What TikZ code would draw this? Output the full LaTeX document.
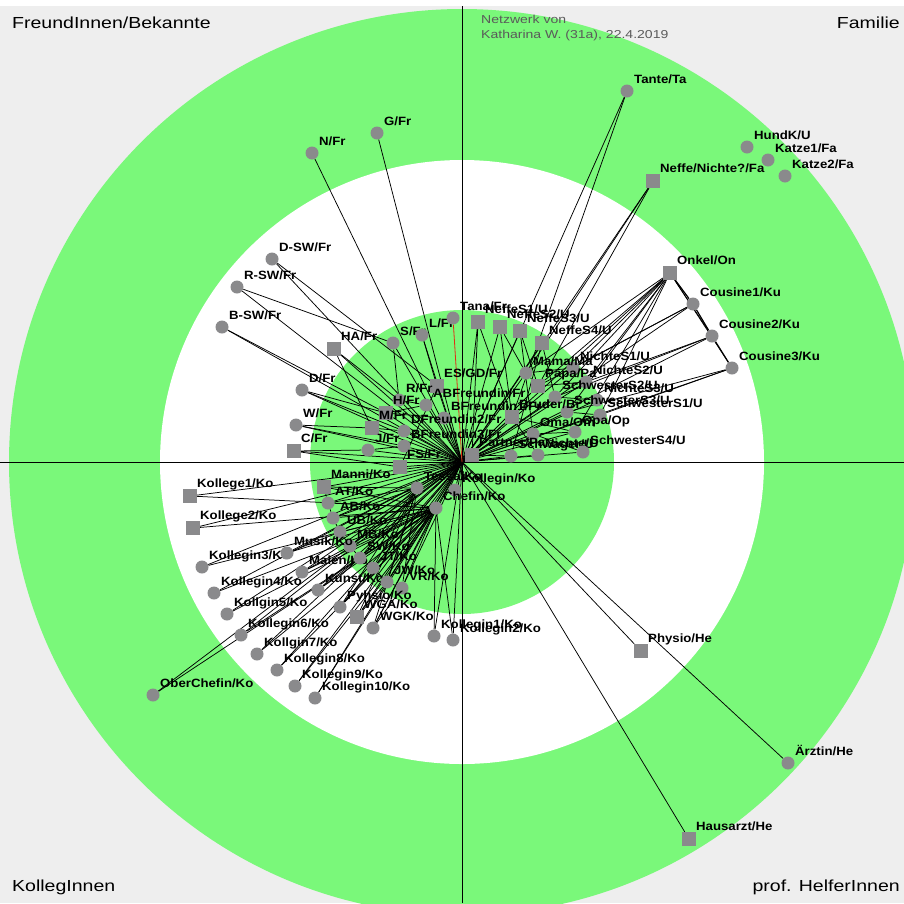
\documentclass[tikz,border=0pt]{standalone}
\usepackage{fontspec}
\setmainfont{Liberation Sans}
\newfontfamily\cornerfont[FakeStretch=1.22]{Liberation Sans}
\newfontfamily\namefont[FakeStretch=1.1]{Liberation Sans}

\definecolor{bggray}{RGB}{238,238,238}
\definecolor{ringgreen}{RGB}{122,248,122}
\definecolor{markgray}{RGB}{138,138,140}
\definecolor{titlegray}{RGB}{90,90,90}
\definecolor{linkred}{RGB}{225,45,20}

\pgfdeclarelayer{rings}
\pgfdeclarelayer{links}
\pgfsetlayers{rings,links,main}

\tikzset{
  pcirc/.style={circle, fill=markgray, minimum size=13pt, inner sep=0pt},
  psq/.style={rectangle, fill=markgray, minimum size=14pt, inner sep=0pt},
  lbl/.style={font=\namefont\bfseries\fontsize{12}{12}\selectfont, inner sep=0pt, anchor=base west, xshift=7pt, yshift=1pt},
  corner/.style={font=\cornerfont\fontsize{16}{16}\selectfont, inner sep=0pt},
  title/.style={font=\cornerfont\fontsize{11.5}{12}\selectfont, text=titlegray, inner sep=0pt, anchor=base west},
  link/.style={line width=0.75pt, black},
}

\begin{document}
\begin{tikzpicture}[x=1pt, y=-1pt]
    \useasboundingbox (0,0) rectangle (904,903);

    % Background and the three circles
    \begin{pgfonlayer}{rings}
    \fill[white] (0,0) rectangle (904,903);
    \fill[bggray] (0,6) rectangle (904,903);
    \begin{scope}
        \clip (0,6) rectangle (904,903);
        \fill[ringgreen] (462,462) circle (453);
    \end{scope}
    \fill[white] (462,462) circle (302);
    \fill[ringgreen] (462,462) circle (152);
    \end{pgfonlayer}

    % Sector names and heading
    \node[corner, anchor=base west] (fb) at (12,28) {FreundInnen/Bekannte};
    \node[corner, anchor=base east] (fam) at (900,28) {Familie};
    \node[corner, anchor=base west] (kol) at (12,891) {KollegInnen};
    \node[corner, anchor=base east] (hel) at (900,891) {prof. HelferInnen};
    \node[title] (head1) at (481,23) {Netzwerk von};
    \node[title] (head2) at (481,38) {Katharina W. (31a), 22.4.2019};

    % Ego in the middle
    \coordinate (ego) at (462,462);

    % FreundInnen/Bekannte
    \node[pcirc, label={[lbl]90:G/Fr}] (gFr) at (377,133) {};
    \node[pcirc, label={[lbl]90:N/Fr}] (nFr) at (312,153) {};
    \node[pcirc, label={[lbl]90:D-SW/Fr}] (dswFr) at (272,259) {};
    \node[pcirc, label={[lbl]90:R-SW/Fr}] (rswFr) at (237,287) {};
    \node[pcirc, label={[lbl]90:B-SW/Fr}] (bswFr) at (222,327) {};
    \node[psq, label={[lbl]90:HA/Fr}] (haFr) at (334,349) {};
    \node[pcirc, label={[lbl]90:S/Fr}] (sFr) at (393,343) {};
    \node[pcirc, label={[lbl]90:L/Fr}] (lFr) at (422,335) {};
    \node[pcirc, label={[lbl]90:Tana/Fr}] (tanaFr) at (453,318) {};
    \node[pcirc, label={[lbl]90:D/Fr}] (dFr) at (302,390) {};
    \node[pcirc, label={[lbl]90:W/Fr}] (wFr) at (296,425) {};
    \node[psq, label={[lbl]90:C/Fr}] (cFr) at (294,451) {};
    \node[psq, label={[lbl]90:ES/GD/Fr}] (esgdFr) at (437,386) {};
    \node[pcirc, label={[lbl]90:R/Fr}] (rFr) at (399,400) {};
    \node[pcirc, label={[lbl]90:ABFreundin/Fr}] (abFr) at (426,405) {};
    \node[psq, label={[lbl]90:H/Fr}] (hFr) at (386,413) {};
    \node[pcirc, label={[lbl]90:BFreundin1/Fr}] (bfr1Fr) at (444,418) {};
    \node[psq, label={[lbl]90:M/Fr}] (mFr) at (372,428) {};
    \node[pcirc, label={[lbl]90:DFreundin2/Fr}] (dfr2Fr) at (404,431) {};
    \node[pcirc, label={[lbl]90:J/Fr}] (jFr) at (368,450) {};
    \node[pcirc, label={[lbl]90:BFreundin3/Fr}] (bfr3Fr) at (404,446) {};
    \node[psq, label={[lbl]90:FS/Fr}] (fsFr) at (400,467) {};

    % Familie
    \node[pcirc, label={[lbl]90:Tante/Ta}] (tante) at (627,91) {};
    \node[pcirc, label={[lbl]90:HundK/U}] (hund) at (747,147) {};
    \node[pcirc, label={[lbl]90:Katze1/Fa}] (katze1) at (768,160) {};
    \node[pcirc, label={[lbl]90:Katze2/Fa}] (katze2) at (785,176) {};
    \node[psq, label={[lbl]90:Neffe/Nichte?/Fa}] (neffeFa) at (653,181) {};
    \node[psq, label={[lbl]90:Onkel/On}] (onkel) at (670,273) {};
    \node[pcirc, label={[lbl]90:Cousine1/Ku}] (cous1) at (693,304) {};
    \node[pcirc, label={[lbl]90:Cousine2/Ku}] (cous2) at (712,336) {};
    \node[pcirc, label={[lbl]90:Cousine3/Ku}] (cous3) at (732,368) {};
    \node[psq, label={[lbl]90:NeffeS1/U}] (neffeS1) at (478,322) {};
    \node[psq, label={[lbl]90:NeffeS2/U}] (neffeS2) at (500,327) {};
    \node[psq, label={[lbl]90:NeffeS3/U}] (neffeS3) at (520,331) {};
    \node[psq, label={[lbl]90:NeffeS4/U}] (neffeS4) at (542,343) {};
    \node[pcirc, label={[lbl]90:NichteS1/U}] (nichteS1) at (573,368) {};
    \node[pcirc, label={[lbl]90:NichteS2/U}] (nichteS2) at (586,382) {};
    \node[pcirc, label={[lbl]90:NichteS3/U}] (nichteS3) at (597,400) {};
    \node[pcirc, label={[lbl]90:SchwesterS1/U}] (schwS1) at (600,415) {};
    \node[pcirc, label={[lbl]90:Mama/Ma}] (mama) at (526,373) {};
    \node[psq, label={[lbl]90:Papa/Pa}] (papa) at (538,386) {};
    \node[pcirc, label={[lbl]90:SchwesterS2/U}] (schwS2) at (555,397) {};
    \node[pcirc, label={[lbl]90:SchwesterS3/U}] (schwS3) at (567,412) {};
    \node[psq, label={[lbl]90:Bruder/Br}] (bruder) at (512,417) {};
    \node[pcirc, label={[lbl]90:Oma/Om}] (oma) at (533,434) {};
    \node[pcirc, label={[lbl]90:Opa/Op}] (opa) at (575,432) {};
    \node[psq, label={[lbl]90:Partner/Pa}] (partner) at (472,455) {};
    \node[pcirc, label={[lbl]90:Schwager/U}] (schwager) at (511,456) {};
    \node[pcirc, label={[lbl]90:Nichte/U}] (nichte) at (538,455) {};
    \node[pcirc, label={[lbl]90:SchwesterS4/U}] (schwS4) at (583,452) {};

    % KollegInnen
    \node[psq, label={[lbl]90:Kollege1/Ko}] (kollege1) at (190,496) {};
    \node[psq, label={[lbl]90:Kollege2/Ko}] (kollege2) at (193,528) {};
    \node[pcirc, label={[lbl]90:Kollegin3/Ko}] (kollegin3) at (202,567) {};
    \node[pcirc, label={[lbl]90:Kollegin4/Ko}] (kollegin4) at (214,593) {};
    \node[pcirc, label={[lbl]90:Kollgin5/Ko}] (kollgin5) at (227,614) {};
    \node[pcirc, label={[lbl]90:Kollegin6/Ko}] (kollegin6) at (241,635) {};
    \node[pcirc, label={[lbl]90:Kollgin7/Ko}] (kollgin7) at (257,654) {};
    \node[pcirc, label={[lbl]90:Kollegin8/Ko}] (kollegin8) at (277,670) {};
    \node[pcirc, label={[lbl]90:Kollegin9/Ko}] (kollegin9) at (295,686) {};
    \node[pcirc, label={[lbl]90:Kollegin10/Ko}] (kollegin10) at (315,698) {};
    \node[pcirc, label={[lbl]90:OberChefin/Ko}] (oberchefin) at (153,695) {};
    \node[psq, label={[lbl]90:Manni/Ko}] (manni) at (324,487) {};
    \node[pcirc, label={[lbl]90:AT/Ko}] (atKo) at (328,503) {};
    \node[pcirc, label={[lbl]90:AB/Ko}] (abKo) at (333,518) {};
    \node[pcirc, label={[lbl]90:UB/Ko}] (ubKo) at (340,532) {};
    \node[pcirc, label={[lbl]90:MB/Ko}] (mbKo) at (350,546) {};
    \node[pcirc, label={[lbl]90:Musik/Ko}] (musik) at (287,553) {};
    \node[pcirc, label={[lbl]90:Malen/Ko}] (malen) at (302,572) {};
    \node[pcirc, label={[lbl]90:SW/Ko}] (swKo) at (360,558) {};
    \node[pcirc, label={[lbl]90:JT/Ko}] (jtKo) at (373,568) {};
    \node[pcirc, label={[lbl]90:Kunst/Ko}] (kunst) at (318,590) {};
    \node[pcirc, label={[lbl]90:JW/Ko}] (jwKo) at (387,582) {};
    \node[pcirc, label={[lbl]90:VR/Ko}] (vrKo) at (402,588) {};
    \node[pcirc, label={[lbl]90:Pyhsio/Ko}] (pyhsio) at (340,607) {};
    \node[psq, label={[lbl]90:WGA/Ko}] (wga) at (357,617) {};
    \node[pcirc, label={[lbl]90:WGK/Ko}] (wgk) at (373,628) {};
    \node[pcirc, label={[lbl]90:Tessa/Ko}] (tessa) at (417,488) {};
    \node[pcirc, label={[lbl]90:Kollegin/Ko}] (kolleginKo) at (455,490) {};
    \node[pcirc, label={[lbl]90:Chefin/Ko}] (chefin) at (436,508) {};
    \node[pcirc, label={[lbl]90:Kollegin1/Ko}] (kollegin1) at (434,636) {};
    \node[pcirc, label={[lbl]90:Kollegin2/Ko}] (kollegin2) at (453,640) {};

    % prof. HelferInnen
    \node[psq, label={[lbl]90:Physio/He}] (physio) at (641,651) {};
    \node[pcirc, label={[lbl]90:Ärztin/He}] (aerztin) at (788,763) {};
    \node[psq, label={[lbl]90:Hausarzt/He}] (hausarzt) at (689,839) {};

    \begin{pgfonlayer}{links}
    % Axes
    \draw[line width=0.8pt] (462,6) -- (462,903);
    \draw[line width=0.8pt] (0,462) -- (904,462);

    % Lines from ego
    \foreach \p in {gFr,nFr,dswFr,rswFr,bswFr,haFr,sFr,lFr,dFr,wFr,cFr,esgdFr,rFr,abFr,hFr,bfr1Fr,mFr,dfr2Fr,jFr,bfr3Fr,fsFr,
        tante,neffeFa,onkel,cous1,cous2,cous3,neffeS1,neffeS2,neffeS3,neffeS4,nichteS1,nichteS2,nichteS3,schwS1,
        mama,papa,schwS2,schwS3,bruder,oma,opa,partner,schwager,nichte,schwS4,
        kollege1,kollege2,kollegin3,kollegin4,kollgin5,kollegin6,kollgin7,kollegin8,kollegin9,kollegin10,oberchefin,
        manni,atKo,abKo,ubKo,mbKo,musik,malen,swKo,jtKo,kunst,jwKo,vrKo,pyhsio,wga,wgk,tessa,kolleginKo,chefin,kollegin1,kollegin2,
        physio,aerztin,hausarzt}
        \draw[link] (ego) -- (\p);
    \draw[link, linkred, line width=0.8pt] (ego) -- (tanaFr);

    % Lines between friends
    \draw[link] (rswFr) -- (sFr);
    \draw[link] (dswFr) -- (esgdFr);
    \draw[link] (bswFr) -- (hFr);
    \draw[link] (haFr) -- (mFr);
    \draw[link] (haFr) -- (rFr);
    \draw[link] (dFr) -- (hFr);
    \draw[link] (dFr) -- (dfr2Fr);
    \draw[link] (wFr) -- (mFr);
    \draw[link] (wFr) -- (bfr3Fr);
    \draw[link] (cFr) -- (jFr);
    \draw[link] (cFr) -- (fsFr);
    \draw[link] (sFr) -- (rFr);
    \draw[link] (lFr) -- (esgdFr);
    \draw[link] (rFr) -- (abFr);
    \draw[link] (abFr) -- (hFr);
    \draw[link] (hFr) -- (bfr1Fr);
    \draw[link] (mFr) -- (dfr2Fr);
    \draw[link] (jFr) -- (bfr3Fr);
    \draw[link] (fsFr) -- (esgdFr);

    % Lines within the family
    \draw[link, line width=1.2pt] (onkel) -- (cous1) -- (cous2) -- (cous3);
    \draw[link] (onkel) -- (cous2);
    \draw[link] (onkel) -- (cous3);
    \foreach \p in {mama,papa,schwS2,schwS3,opa,nichteS1,nichteS2,schwS1}
        \draw[link] (onkel) -- (\p);
    \draw[link] (cous1) -- (papa);
    \draw[link] (cous1) -- (nichteS1);
    \draw[link] (cous2) -- (schwS2);
    \draw[link] (cous2) -- (nichteS2);
    \draw[link] (cous3) -- (schwS3);
    \draw[link] (cous3) -- (schwS1);
    \draw[link] (tante) -- (bruder);
    \draw[link] (neffeFa) -- (papa);
    \draw[link] (neffeFa) -- (mama);
    \draw[link] (neffeS1) -- (bruder);
    \draw[link] (neffeS1) -- (partner);
    \draw[link] (neffeS2) -- (mama);
    \draw[link] (neffeS2) -- (bruder);
    \draw[link] (neffeS3) -- (papa);
    \draw[link] (neffeS3) -- (oma);
    \draw[link] (neffeS4) -- (schwS2);
    \draw[link] (neffeS4) -- (schwager);
    \draw[link] (nichteS1) -- (mama);
    \draw[link] (nichteS2) -- (papa);
    \draw[link] (nichteS3) -- (schwS2);
    \draw[link] (schwS1) -- (schwS3);
    \draw[link] (schwS4) -- (oma);
    \draw[link] (nichte) -- (bruder);
    \draw[link] (opa) -- (oma);
    \draw[link] (schwager) -- (partner);
    \draw[link] (mama) -- (papa);
    \draw[link] (bruder) -- (opa);

    % Lines between colleagues
    \foreach \p in {kollege1,kollege2,kollegin3,kollegin4,kollgin5,kollegin6,kollgin7,kollegin8,kollegin9,kollegin10,oberchefin,
        manni,atKo,abKo,ubKo,mbKo,musik,malen,swKo,jtKo,kunst,jwKo,vrKo,pyhsio,wga,wgk,kollegin1,kollegin2}
        \draw[link] (chefin) -- (\p);
    \foreach \p in {manni,atKo,abKo,ubKo,mbKo,swKo,jtKo,jwKo,vrKo,pyhsio,wga,wgk}
        \draw[link] (tessa) -- (\p);
    \draw[link] (manni) -- (atKo) -- (abKo) -- (ubKo) -- (mbKo) -- (swKo) -- (jtKo) -- (jwKo) -- (vrKo);
    \draw[link] (musik) -- (ubKo);
    \draw[link] (malen) -- (mbKo);
    \draw[link] (kunst) -- (swKo);
    \draw[link] (pyhsio) -- (jtKo);
    \draw[link] (wga) -- (jwKo);
    \draw[link] (wgk) -- (vrKo);
    \end{pgfonlayer}
\end{tikzpicture}
\end{document}
